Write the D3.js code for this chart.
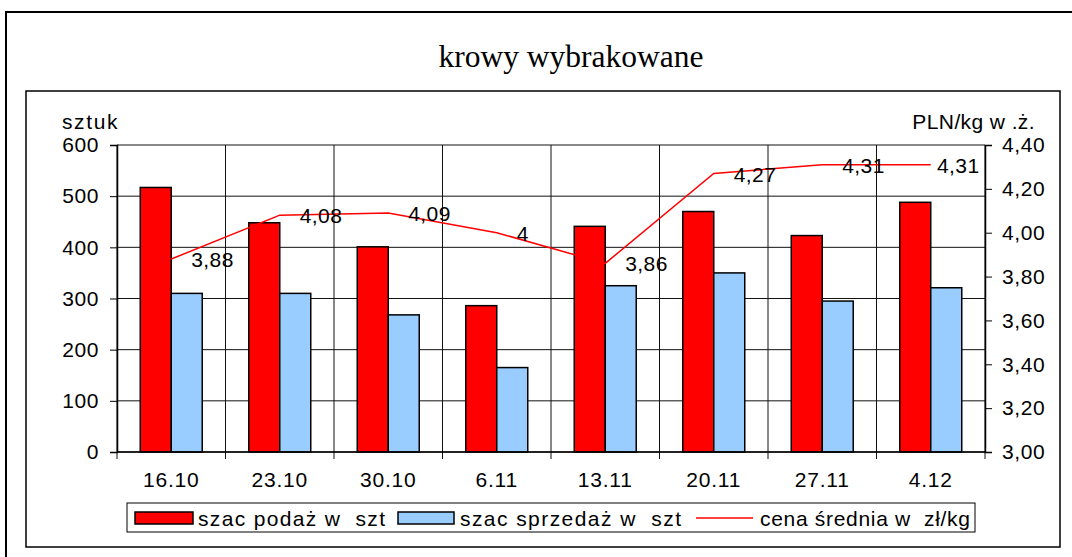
<!DOCTYPE html>
<html>
<head>
<meta charset="utf-8">
<script src="https://cdn.jsdelivr.net/npm/d3@7"></script>
<style>
  body { margin: 0; background: #fff; }
  text { font-family: "Liberation Sans", Arial, sans-serif; }
</style>
</head>
<body>
<script>
// dane
const categories = ["16.10", "23.10", "30.10", "6.11", "13.11", "20.11", "27.11", "4.12"];
const podaz = [517, 448, 401, 286, 441, 470, 423, 488];
const sprzedaz = [310, 310, 268, 165, 325, 350, 295, 321];
const cena = [3.88, 4.08, 4.09, 4, 3.86, 4.27, 4.31, 4.31];
const leftTicks = [0, 100, 200, 300, 400, 500, 600];
const rightTicks = [3.0, 3.2, 3.4, 3.6, 3.8, 4.0, 4.2, 4.4];
const seriesNames = ["szac podaż w  szt", "szac sprzedaż w  szt", "cena średnia w  zł/kg"];

const svg = d3.select("body")
  .append("svg")
  .attr("width", 1072)
  .attr("height", 557);

// ramki
svg.append("rect")
  .attr("x", 6).attr("y", 12)
  .attr("width", 1100).attr("height", 600)
  .attr("fill", "none").attr("stroke", "#000").attr("stroke-width", 2);

svg.append("rect")
  .attr("x", 26).attr("y", 91)
  .attr("width", 1034).attr("height", 456)
  .attr("fill", "none").attr("stroke", "#000").attr("stroke-width", 1.5);

// tytuł
svg.append("text")
  .attr("x", 571).attr("y", 67)
  .attr("text-anchor", "middle")
  .style("font-family", "'Liberation Serif', 'Times New Roman', serif")
  .style("font-size", "31.5px")
  .text("krowy wybrakowane");

const pLeft = 117, pRight = 985, pTop = 145, pBottom = 452;

const x = d3.scaleBand().domain(categories).range([pLeft, pRight]);
const y = d3.scaleLinear().domain([0, 600]).range([pBottom, pTop]);
const y2 = d3.scaleLinear().domain([3, 4.4]).range([pBottom, pTop]);

// siatka pozioma
svg.selectAll(".hgrid")
  .data(leftTicks)
  .join("line")
  .attr("x1", pLeft).attr("x2", pRight)
  .attr("y1", d => y(d)).attr("y2", d => y(d))
  .attr("stroke", d => d === 600 ? "#888" : "#111")
  .attr("stroke-width", d => d === 600 ? 2 : 1);

// siatka pionowa + ticki osi kategorii
const bounds = categories.map(c => x(c)).concat([pRight]);
svg.selectAll(".vgrid")
  .data(bounds)
  .join("line")
  .attr("x1", d => d).attr("x2", d => d)
  .attr("y1", pTop).attr("y2", pBottom + 7)
  .attr("stroke", "#111").attr("stroke-width", 1);

// słupki
const bw = 31;
svg.selectAll(".bar1")
  .data(podaz)
  .join("rect")
  .attr("x", (d, i) => x(categories[i]) + x.bandwidth() / 2 - bw)
  .attr("y", d => y(d))
  .attr("width", bw)
  .attr("height", d => pBottom - y(d))
  .attr("fill", "#ff0000")
  .attr("stroke", "#000").attr("stroke-width", 1.5);

svg.selectAll(".bar2")
  .data(sprzedaz)
  .join("rect")
  .attr("x", (d, i) => x(categories[i]) + x.bandwidth() / 2)
  .attr("y", d => y(d))
  .attr("width", bw)
  .attr("height", d => pBottom - y(d))
  .attr("fill", "#99ccff")
  .attr("stroke", "#000").attr("stroke-width", 1.5);

// osie
const axisL = svg.append("g")
  .attr("transform", `translate(${pLeft},0)`)
  .call(d3.axisLeft(y).tickValues(leftTicks).tickSize(7).tickPadding(11).tickFormat(d3.format("d")));

const fmt = d => d3.format(".2f")(d).replace(".", ",");
const axisR = svg.append("g")
  .attr("transform", `translate(${pRight},0)`)
  .call(d3.axisRight(y2).tickValues(rightTicks).tickSize(7).tickPadding(10).tickFormat(fmt));

[axisL, axisR].forEach(g => {
  g.select(".domain").attr("stroke", "#000").attr("stroke-width", 1.5);
  g.selectAll(".tick line").attr("stroke", "#000");
  g.selectAll("text")
    .style("font-family", "'Liberation Sans', Arial, sans-serif")
    .style("font-size", "21px")
    .style("letter-spacing", "0.6px")
    .attr("fill", "#000");
});

// linia zero
svg.append("line")
  .attr("x1", pLeft).attr("x2", pRight)
  .attr("y1", pBottom).attr("y2", pBottom)
  .attr("stroke", "#000").attr("stroke-width", 1.5);

// etykiety kategorii
svg.selectAll(".cat")
  .data(categories)
  .join("text")
  .attr("x", d => x(d) + x.bandwidth() / 2)
  .attr("y", 487)
  .attr("text-anchor", "middle")
  .style("font-size", "21px")
  .style("letter-spacing", "0.8px")
  .text(d => d);

// nazwy osi
svg.append("text")
  .attr("x", 62).attr("y", 129)
  .style("font-size", "21px")
  .style("letter-spacing", "1.6px")
  .text("sztuk");

svg.append("text")
  .attr("x", 1035).attr("y", 129)
  .attr("text-anchor", "end")
  .style("font-size", "21px")
  .style("letter-spacing", "0.4px")
  .text("PLN/kg w .ż.");

// linia ceny
const line = d3.line()
  .x((d, i) => x(categories[i]) + x.bandwidth() / 2)
  .y(d => y2(d));

svg.append("path")
  .datum(cena)
  .attr("d", line)
  .attr("fill", "none")
  .attr("stroke", "#ff0000")
  .attr("stroke-width", 1.5);

svg.selectAll(".lbl")
  .data(cena)
  .join("text")
  .attr("x", (d, i) => Math.min(x(categories[i]) + x.bandwidth() / 2 + 20, pRight - 48))
  .attr("y", d => y2(d) + 8)
  .style("font-size", "21px")
  .style("letter-spacing", "0.4px")
  .text(d => String(d).replace(".", ","));

// legenda
const lg = svg.append("g");
lg.append("rect")
  .attr("x", 127).attr("y", 503)
  .attr("width", 848).attr("height", 29)
  .attr("fill", "#fff").attr("stroke", "#000").attr("stroke-width", 1);

lg.append("rect")
  .attr("x", 135).attr("y", 512).attr("width", 58).attr("height", 12)
  .attr("fill", "#ff0000").attr("stroke", "#000").attr("stroke-width", 1.5);
lg.append("rect")
  .attr("x", 398).attr("y", 512).attr("width", 56).attr("height", 12)
  .attr("fill", "#99ccff").attr("stroke", "#000").attr("stroke-width", 1.5);
lg.append("line")
  .attr("x1", 696).attr("x2", 753).attr("y1", 518).attr("y2", 518)
  .attr("stroke", "#ff0000").attr("stroke-width", 1.5);

const legendX = [198, 460, 760];
const legendW = [187, 221, 210];
lg.selectAll(".lt")
  .data(seriesNames)
  .join("text")
  .attr("x", (d, i) => legendX[i])
  .attr("y", 526)
  .attr("textLength", (d, i) => legendW[i])
  .attr("lengthAdjust", "spacing")
  .style("font-size", "21px")
  .style("white-space", "pre")
  .text(d => d);
</script>
</body>
</html>
